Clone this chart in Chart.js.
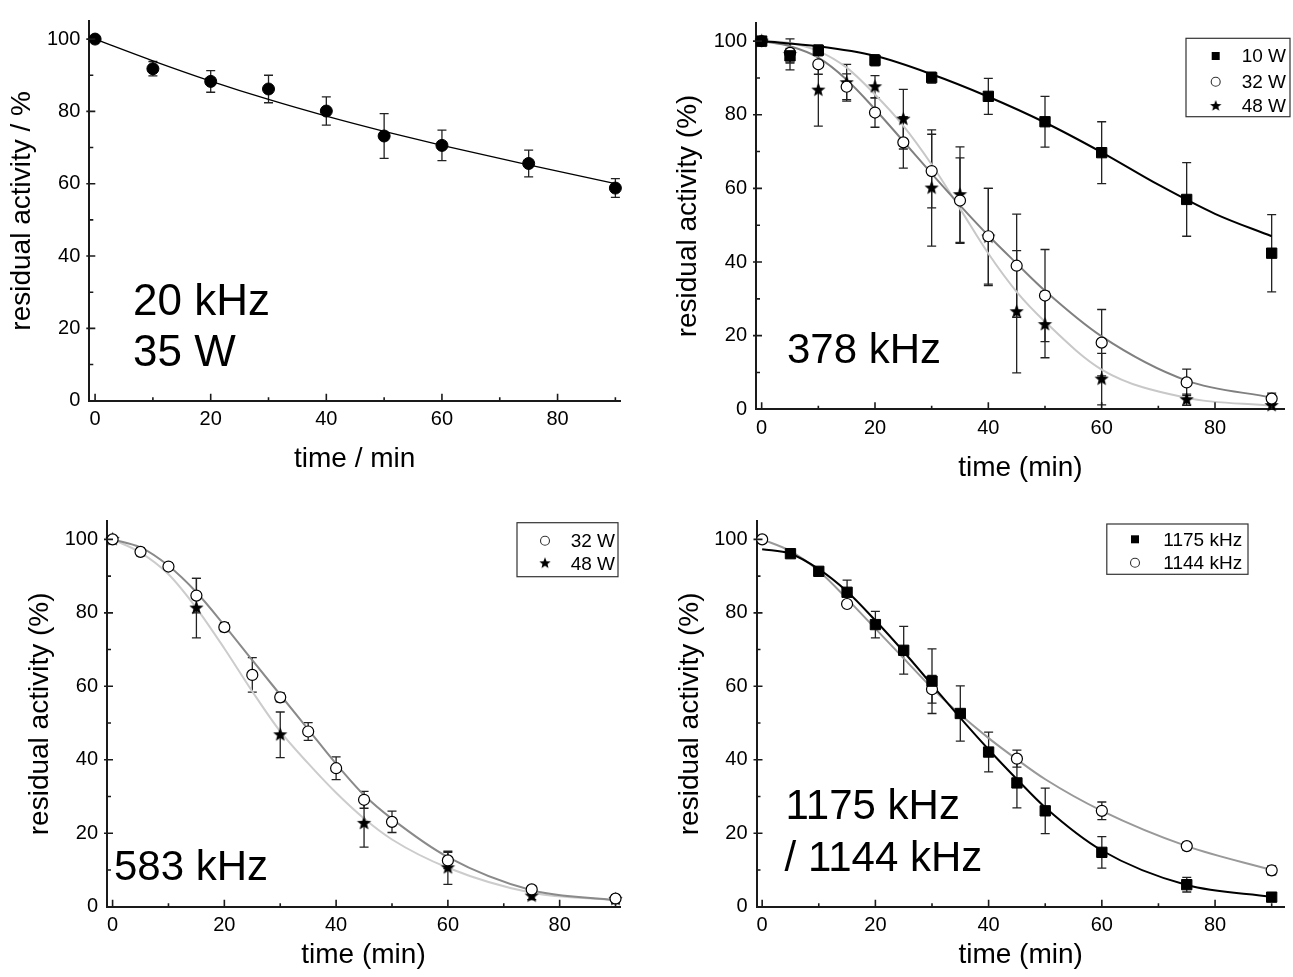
<!DOCTYPE html>
<html>
<head>
<meta charset="utf-8">
<script src="https://cdn.jsdelivr.net/npm/chart.js@4.4.1/dist/chart.umd.min.js"></script>
<style>
html, body { margin: 0; padding: 0; background: #fff; }
body { width: 1293px; height: 977px; position: relative; overflow: hidden; }
canvas { position: absolute; }
</style>
</head>
<body>
<canvas id="c1" width="650" height="490" style="left:0px;top:0px"></canvas>
<canvas id="c2" width="643" height="490" style="left:650px;top:0px"></canvas>
<canvas id="c3" width="650" height="477" style="left:0px;top:500px"></canvas>
<canvas id="c4" width="643" height="477" style="left:650px;top:500px"></canvas>
<script>
// ---- panel 1 : 20 kHz / 35 W
const p1Time = [0, 10, 20, 30, 40, 50, 60, 75, 90];
const p1Act = [100, 91.8, 88.3, 86.2, 80.1, 73.2, 70.6, 65.6, 58.8];
const p1Err = [0, 2, 3, 3.8, 3.9, 6.2, 4.2, 3.7, 2.6];
const p1FitTime = [0, 10, 20, 30, 40, 50, 60, 75, 90];
const p1Fit = [100, 94.0, 88.4, 83.3, 78.7, 74.5, 70.6, 65.2, 60.0];

// ---- panel 2 : 378 kHz
const p2Time10 = [0, 5, 10, 20, 30, 40, 50, 60, 75, 90];
const p2Act10 = [100, 96.0, 97.5, 94.8, 90.1, 85.0, 78.1, 69.7, 57.0, 42.4];
const p2Err10 = [0, 2, 1.5, 1.5, 1.5, 4.9, 6.9, 8.4, 10, 10.5];
const p2Time = [0, 5, 10, 15, 20, 25, 30, 35, 40, 45, 50, 60, 75, 90];
const p2Act32 = [100, 96.8, 93.7, 87.6, 80.6, 72.5, 64.7, 56.7, 47.0, 39.0, 30.9, 18.1, 7.3, 2.9];
const p2Err32 = [0, 2.5, 2.7, 3.5, 4, 7, 10, 11.6, 13, 14, 12.5, 9, 3.6, 1.5];
const p2Act48 = [100, 96.4, 86.7, 88.7, 87.6, 78.8, 60.1, 58.3, 46.8, 26.5, 23.0, 8.2, 2.6, 1.0];
const p2Err48 = [0, 4.2, 9.8, 5, 3, 8.1, 15.8, 13, 13.2, 16.6, 9, 7, 1.5, 0.8];
const p2FitTime10 = [0, 10, 20, 30, 40, 50, 60, 70, 80, 90];
const p2Fit10 = [100, 98.6, 96.0, 91.0, 84.9, 77.9, 69.8, 61.0, 53.1, 47.0];
const p2Fit32 = [100, 98.6, 95.5, 89.5, 81.5, 72.8, 64.0, 55.4, 47.2, 39.6, 32.2, 19.8, 7.8, 3.2];
const p2Fit48 = [100, 99.5, 97.3, 92.8, 85.5, 77.0, 66.5, 54.5, 42.3, 31.9, 23.8, 10.8, 3.1, 1.0];

// ---- panel 3 : 583 kHz
const p3Time32 = [0, 5, 10, 15, 20, 25, 30, 35, 40, 45, 50, 60, 75, 90];
const p3Act32 = [100, 96.6, 92.6, 84.7, 76.1, 63.1, 57.0, 47.7, 37.7, 29.1, 23.1, 12.6, 4.7, 2.2];
const p3Err32 = [0, 1, 1, 4.7, 1.2, 4.7, 1.2, 2.4, 3.1, 2.3, 2.9, 2.2, 1, 1];
const p3Time48 = [0, 15, 30, 45, 60, 75, 90];
const p3Act48 = [100, 81.3, 46.8, 22.7, 10.6, 2.9, 2.0];
const p3Err48 = [0, 8.1, 6.2, 6.5, 4.5, 1, 1];
const p3FitTime = [0, 5, 10, 15, 20, 25, 30, 35, 40, 45, 50, 60, 75, 90];
const p3Fit32 = [100, 97.8, 92.8, 85.6, 76.6, 67.1, 57.7, 48.3, 38.9, 30.4, 23.9, 13.5, 4.5, 1.8];
const p3Fit48 = [100, 96.4, 90.5, 81.3, 70.3, 58.6, 47.7, 39.0, 31.0, 24.0, 18.3, 10.6, 3.8, 1.8];

// ---- panel 4 : 1175 kHz / 1144 kHz
const p4Time1175 = [5, 10, 15, 20, 25, 30, 35, 40, 45, 50, 60, 75, 90];
const p4Act1175 = [96.1, 91.3, 85.6, 76.8, 69.8, 61.4, 52.6, 42.1, 33.7, 26.1, 14.8, 6.0, 2.6];
const p4Err1175 = [0.8, 0.8, 3.3, 3.6, 6.5, 8.8, 7.5, 5.4, 6.8, 6.2, 4.3, 2, 0.8];
const p4Time1144 = [0, 15, 30, 45, 60, 75, 90];
const p4Act1144 = [100, 82.4, 59.2, 40.3, 26.1, 16.5, 9.9];
const p4Err1144 = [0.5, 0.5, 3.8, 2.3, 2.4, 1, 1.2];
const p4FitTime = [0, 5, 10, 15, 20, 25, 30, 35, 40, 45, 50, 60, 75, 90];
const p4Fit1175 = [97.3, 96.1, 91.9, 85.8, 77.9, 69.4, 60.4, 51.4, 42.8, 34.7, 27.0, 15.3, 5.9, 2.7];
const p4Fit1144 = [100, 96.8, 91.4, 83.8, 75.7, 67.6, 59.5, 52.3, 45.9, 40.1, 34.7, 26.1, 16.5, 10.0];

const FONT = '"Liberation Sans", Arial, Helvetica, sans-serif';
const TITLE_SIZE = 28;
Chart.defaults.font.family = FONT;
Chart.defaults.color = '#000';

function makeStar(ro, ri) {
  const c = document.createElement('canvas');
  const s = Math.ceil(ro * 2 + 2);
  c.width = s; c.height = s;
  const g = c.getContext('2d');
  g.beginPath();
  for (let i = 0; i < 10; i++) {
    const r = i % 2 ? ri : ro;
    const a = -Math.PI / 2 + i * Math.PI / 5;
    const px = s / 2 + r * Math.cos(a), py = s / 2 + r * Math.sin(a);
    if (i) g.lineTo(px, py); else g.moveTo(px, py);
  }
  g.closePath();
  g.fillStyle = '#000';
  g.fill();
  return c;
}
const starPoint = makeStar(7.5, 3.2);
const starLegend = makeStar(6, 2.6);

const STYLES = {
  dot: { pointStyle: 'circle', pointRadius: 6, backgroundColor: '#000', borderColor: '#000', borderWidth: 1 },
  square: { pointStyle: 'rect', pointRadius: 7.3, backgroundColor: '#000', borderColor: '#000', borderWidth: 1 },
  circle: { pointStyle: 'circle', pointRadius: 5.5, backgroundColor: '#fff', borderColor: '#000', borderWidth: 1.2 },
  star: { pointStyle: starPoint, pointRadius: 7.5, backgroundColor: '#000', borderColor: '#000', borderWidth: 0 }
};

function pts(label, t, v, e, style) {
  return Object.assign({
    label: label,
    data: t.map((x, i) => ({ x: x, y: v[i] })),
    errors: e,
    showLine: false,
    clip: false
  }, STYLES[style]);
}

function fit(t, v, color, width) {
  return {
    data: t.map((x, i) => ({ x: x, y: v[i] })),
    showLine: true,
    pointRadius: 0,
    borderColor: color,
    borderWidth: width,
    cubicInterpolationMode: 'monotone',
    fill: false,
    clip: false
  };
}

// error bars drawn with the chart's own scales
const errorBars = {
  id: 'errorBars',
  beforeDatasetsDraw(chart) {
    const ctx = chart.ctx, xs = chart.scales.x, ys = chart.scales.y;
    chart.data.datasets.forEach(ds => {
      if (!ds.errors) return;
      ctx.save();
      ctx.strokeStyle = '#222';
      ctx.lineWidth = 1.3;
      ds.data.forEach((p, j) => {
        const e = ds.errors[j];
        if (!e) return;
        const px = xs.getPixelForValue(p.x);
        const top = ys.getPixelForValue(p.y + e), bot = ys.getPixelForValue(p.y - e);
        ctx.beginPath();
        ctx.moveTo(px, top); ctx.lineTo(px, bot);
        ctx.moveTo(px - 4.5, top); ctx.lineTo(px + 4.5, top);
        ctx.moveTo(px - 4.5, bot); ctx.lineTo(px + 4.5, bot);
        ctx.stroke();
      });
      ctx.restore();
    });
  }
};

// inward major / minor ticks
const innerTicks = {
  id: 'innerTicks',
  afterDraw(chart) {
    const ctx = chart.ctx, a = chart.chartArea, xs = chart.scales.x, ys = chart.scales.y;
    ctx.save();
    ctx.strokeStyle = '#1a1a1a';
    ctx.lineWidth = 1.6;
    ctx.beginPath();
    for (let v = Math.ceil(xs.min / 10) * 10; v <= xs.max; v += 10) {
      const px = xs.getPixelForValue(v);
      const len = v % 20 === 0 ? 7 : 3.5;
      ctx.moveTo(px, a.bottom); ctx.lineTo(px, a.bottom - len);
    }
    for (let v = 10; v <= ys.max; v += 10) {
      const py = ys.getPixelForValue(v);
      if (v % 20 === 0) { ctx.moveTo(a.left - 3, py); ctx.lineTo(a.left + 6, py); }
      else { ctx.moveTo(a.left, py); ctx.lineTo(a.left + 4, py); }
    }
    ctx.stroke();
    ctx.restore();
  }
};

// big panel labels and boxed legends
const decorations = {
  id: 'decorations',
  afterDraw(chart, args, opts) {
    const ctx = chart.ctx;
    ctx.save();
    ctx.fillStyle = '#000';
    (opts.notes || []).forEach(n => {
      ctx.font = n.size + 'px ' + FONT;
      ctx.textBaseline = 'alphabetic';
      ctx.textAlign = 'left';
      ctx.fillText(n.text, n.x, n.y);
    });
    const lg = opts.legend;
    if (lg) {
      ctx.strokeStyle = '#333';
      ctx.lineWidth = 1.2;
      ctx.strokeRect(lg.box[0], lg.box[1], lg.box[2], lg.box[3]);
      ctx.font = '19px ' + FONT;
      ctx.textBaseline = 'middle';
      lg.items.forEach(it => {
        if (it.symbol === 'square') {
          ctx.fillRect(lg.symX - 4, it.y - 4, 8, 8);
        } else if (it.symbol === 'circle') {
          ctx.beginPath();
          ctx.arc(lg.symX, it.y, 4.5, 0, Math.PI * 2);
          ctx.lineWidth = 1.1;
          ctx.stroke();
        } else if (it.symbol === 'star') {
          ctx.drawImage(starLegend, lg.symX - starLegend.width / 2, it.y - starLegend.height / 2);
        }
        ctx.fillText(it.text, lg.textX, it.y + 1);
      });
    }
    ctx.restore();
  }
};

function makePanel(id, o) {
  const canvas = document.getElementById(id);
  const W = canvas.width, H = canvas.height;
  const a = o.area;
  const half = TITLE_SIZE * 1.2 / 2;
  return new Chart(canvas, {
    type: 'scatter',
    data: { datasets: o.datasets },
    options: {
      responsive: false,
      animation: false,
      events: [],
      layout: { padding: { left: o.yTitleX - half, top: a.top, right: W - a.right, bottom: 0 } },
      scales: {
        x: {
          type: 'linear',
          min: o.xMin,
          max: o.xMax,
          grid: { display: false, drawTicks: false },
          border: { display: true, color: '#1a1a1a', width: 2 },
          ticks: { stepSize: 20, includeBounds: false, padding: 7, font: { size: 20 }, color: '#000', maxRotation: 0 },
          title: { display: true, text: o.xTitle, font: { size: TITLE_SIZE }, color: '#000', padding: { top: 0, bottom: H - o.xTitleY - half } },
          afterFit: s => { s.height = H - a.bottom; }
        },
        y: {
          type: 'linear',
          min: 0,
          max: 105,
          grid: { display: false, drawTicks: false },
          border: { display: true, color: '#1a1a1a', width: 2 },
          ticks: { stepSize: 20, includeBounds: false, padding: 9, font: { size: 20 }, color: '#000' },
          title: { display: true, text: o.yTitle, font: { size: TITLE_SIZE }, color: '#000', padding: { top: 0, bottom: 0 } },
          afterFit: s => { s.width = a.left - (o.yTitleX - half); }
        }
      },
      plugins: {
        legend: { display: false },
        tooltip: { enabled: false },
        decorations: { notes: o.notes, legend: o.legend }
      }
    },
    plugins: [errorBars, innerTicks, decorations]
  });
}

makePanel('c1', {
  area: { left: 89.3, top: 9.3, right: 620, bottom: 400.7 },
  xMin: -1, xMax: 90.8,
  xTitle: 'time / min', xTitleY: 459,
  yTitle: 'residual activity / %', yTitleX: 22,
  datasets: [
    pts('35 W', p1Time, p1Act, p1Err, 'dot'),
    fit(p1FitTime, p1Fit, '#000', 1.3)
  ],
  notes: [
    { text: '20 kHz', x: 133, y: 315, size: 44 },
    { text: '35 W', x: 133, y: 366, size: 44 }
  ]
});

makePanel('c2', {
  area: { left: 106, top: 22.7, right: 643, bottom: 409.3 },
  xMin: -1, xMax: 92.3,
  xTitle: 'time (min)', xTitleY: 468,
  yTitle: 'residual activity (%)', yTitleX: 38,
  datasets: [
    pts('10 W', p2Time10, p2Act10, p2Err10, 'square'),
    pts('32 W', p2Time, p2Act32, p2Err32, 'circle'),
    pts('48 W', p2Time, p2Act48, p2Err48, 'star'),
    fit(p2FitTime10, p2Fit10, '#000', 2),
    fit(p2Time, p2Fit32, '#808080', 2),
    fit(p2Time, p2Fit48, '#c8c8c8', 2)
  ],
  notes: [{ text: '378 kHz', x: 137, y: 363, size: 42 }],
  legend: {
    box: [536, 38.3, 104, 78.4], symX: 565.7, textX: 591.7,
    items: [
      { symbol: 'square', text: '10 W', y: 56 },
      { symbol: 'circle', text: '32 W', y: 81.7 },
      { symbol: 'star', text: '48 W', y: 106 }
    ]
  }
});

makePanel('c3', {
  area: { left: 107, top: 18.2, right: 620, bottom: 406.7 },
  xMin: -1, xMax: 90.8,
  xTitle: 'time (min)', xTitleY: 455,
  yTitle: 'residual activity (%)', yTitleX: 40,
  datasets: [
    pts('32 W', p3Time32, p3Act32, p3Err32, 'circle'),
    pts('48 W', p3Time48, p3Act48, p3Err48, 'star'),
    fit(p3FitTime, p3Fit32, '#8a8a8a', 2),
    fit(p3FitTime, p3Fit48, '#cccccc', 2)
  ],
  notes: [{ text: '583 kHz', x: 114, y: 380, size: 42 }],
  legend: {
    box: [517, 22.7, 101, 54], symX: 545, textX: 570.7,
    items: [
      { symbol: 'circle', text: '32 W', y: 40.7 },
      { symbol: 'star', text: '48 W', y: 63.3 }
    ]
  }
});

makePanel('c4', {
  area: { left: 106.5, top: 18.2, right: 643, bottom: 406.7 },
  xMin: -1, xMax: 92.3,
  xTitle: 'time (min)', xTitleY: 455,
  yTitle: 'residual activity (%)', yTitleX: 40,
  datasets: [
    pts('1175 kHz', p4Time1175, p4Act1175, p4Err1175, 'square'),
    pts('1144 kHz', p4Time1144, p4Act1144, p4Err1144, 'circle'),
    fit(p4FitTime, p4Fit1175, '#000', 2),
    fit(p4FitTime, p4Fit1144, '#999999', 2)
  ],
  notes: [
    { text: '1175 kHz', x: 135.6, y: 319.3, size: 42 },
    { text: '/ 1144 kHz', x: 134.6, y: 370.7, size: 42 }
  ],
  legend: {
    box: [456.8, 24, 141.2, 50.3], symX: 485, textX: 513.3,
    items: [
      { symbol: 'square', text: '1175 kHz', y: 39.3 },
      { symbol: 'circle', text: '1144 kHz', y: 62.7 }
    ]
  }
});
</script>
</body>
</html>
